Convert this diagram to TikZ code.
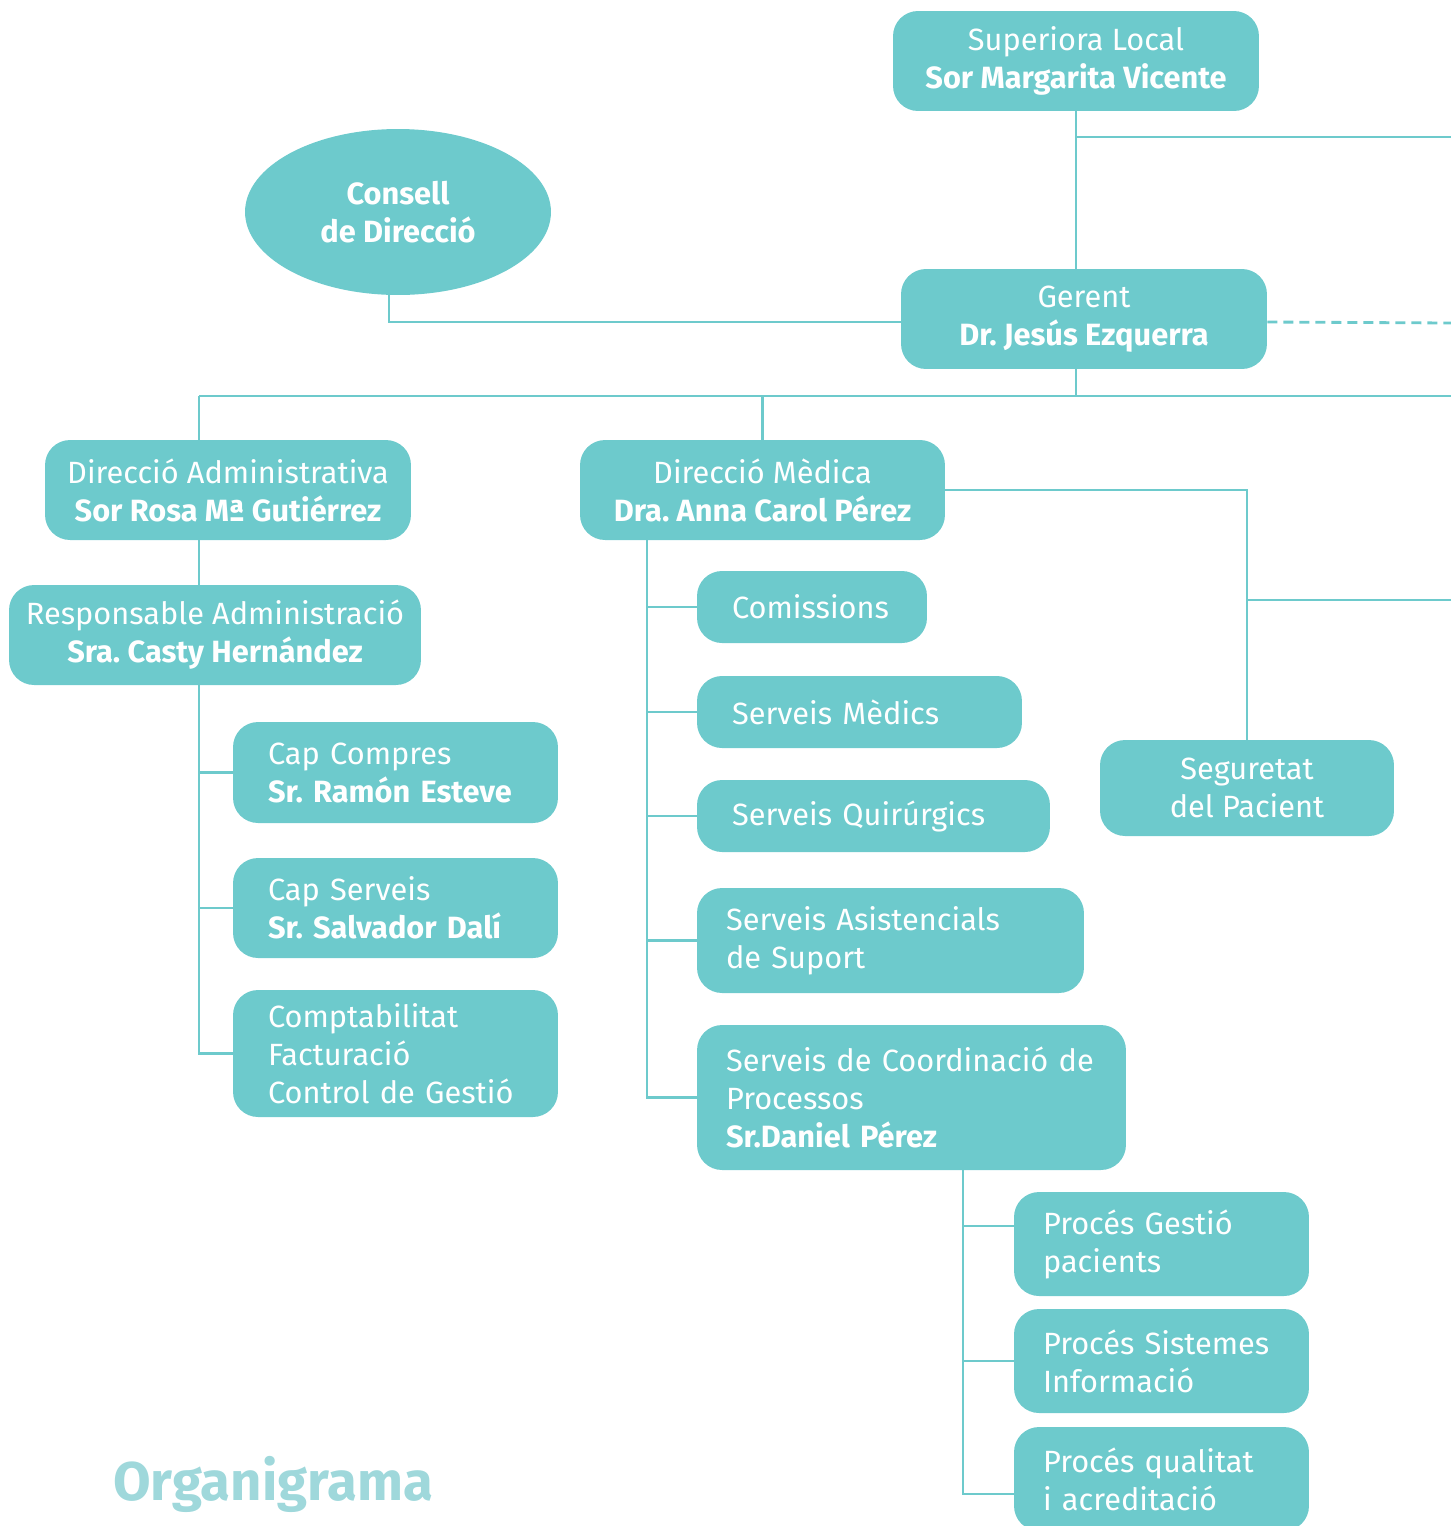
\documentclass[tikz,border=0pt]{standalone}
\usepackage{fontspec}
\setmainfont{Fira Sans}
\usetikzlibrary{shapes.geometric}
\definecolor{teal1}{HTML}{6DCACC}
\definecolor{tealtitle}{HTML}{9FD8DB}
\frenchspacing
\begin{document}
\begin{tikzpicture}[
    x=0.02cm, y=-0.02cm,
    font=\fontsize{17.5}{21.6}\selectfont,
    box/.style={rectangle, rounded corners=0.5cm, fill=teal1, text=white, align=center, inner sep=0pt},
    leaf/.style={box, align=left, inner xsep=0.7cm},
    oval/.style={ellipse, fill=teal1, text=white, align=center, inner sep=0pt, font=\fontsize{17.5}{21.6}\selectfont\bfseries},
    link/.style={draw=teal1, line width=1.6pt}
]
    \useasboundingbox (0,0) rectangle (1451,1526);
    \clip (0,0) rectangle (1451,1526);

    % top
    \node[box, minimum width=7.32cm, minimum height=2cm] (sup) at (1076,61) {Superiora Local\\\textbf{Sor Margarita Vicente}};
    \node[oval, minimum width=6.12cm, minimum height=3.32cm] (cons) at (398,212) {Consell\\de Direcció};
    \node[box, minimum width=7.32cm, minimum height=2cm] (ger) at (1084,319) {Gerent\\\textbf{Dr. Jesús Ezquerra}};

    % administracio
    \node[box, minimum width=7.32cm, minimum height=2cm] (dadm) at (228,490) {Direcció Administrativa\\\textbf{Sor Rosa Mª Gutiérrez}};
    \node[box, minimum width=8.24cm, minimum height=2cm] (resp) at (215,635) {Responsable Administració\\\textbf{Sra. Casty Hernández}};
    \node[leaf, text width=5.1cm, minimum height=2.02cm] (compres) at (395.5,772.5) {Cap Compres\\\textbf{Sr. Ramón Esteve}};
    \node[leaf, text width=5.1cm, minimum height=2cm] (cserv) at (395.5,908) {Cap Serveis\\\textbf{Sr. Salvador Dalí}};
    \node[leaf, text width=5.1cm, minimum height=2.54cm] (compt) at (395.5,1053.5) {Comptabilitat\\Facturació\\Control de Gestió};

    % medica
    \node[box, minimum width=7.3cm, minimum height=2cm] (dmed) at (762.5,490) {Direcció Mèdica\\\textbf{Dra. Anna Carol Pérez}};
    \node[leaf, text width=3.2cm, minimum height=1.44cm] (comis) at (812,607) {Comissions};
    \node[leaf, text width=5.1cm, minimum height=1.44cm] (smed) at (859.5,712) {Serveis Mèdics};
    \node[leaf, text width=5.66cm, minimum height=1.44cm] (squir) at (873.5,816) {Serveis Quirúrgics};
    \node[leaf, inner xsep=0.58cm, text width=6.58cm, minimum height=2.1cm] (sasis) at (890.5,940.5) {Serveis Asistencials\\de Suport};
    \node[leaf, inner xsep=0.58cm, text width=7.42cm, minimum height=2.9cm] (scoord) at (911.5,1097.5) {Serveis de Coordinació de\\Processos\\\textbf{Sr.Daniel Pérez}};
    \node[box, minimum width=5.88cm, minimum height=1.92cm] (segur) at (1247,788) {Seguretat\\del Pacient};

    % processos
    \node[leaf, inner xsep=0.58cm, text width=4.74cm, minimum height=2.08cm] (pgest) at (1161.5,1244) {Procés Gestió\\pacients};
    \node[leaf, inner xsep=0.58cm, text width=4.74cm, minimum height=2.08cm] (psist) at (1161.5,1361) {Procés Sistemes\\Informació};
    \node[leaf, inner xsep=0.58cm, text width=4.74cm, minimum height=2.08cm] (pqual) at (1161.5,1479) {Procés qualitat\\i acreditació};

    \node[anchor=base west, text=tealtitle, inner sep=0pt, font=\fontsize{31}{36}\selectfont\bfseries] (title) at (113,1500) {Organigrama};

    % connectors
    \coordinate (r1) at (1451,137);
    \coordinate (r2) at (1451,323);
    \coordinate (bl) at (199,396);
    \coordinate (br) at (1451,396);
    \coordinate (r3) at (1451,600);
    \coordinate (mt) at (647,0);
    \coordinate (pt) at (963,0);
    \coordinate (pg) at ([yshift=0.36cm]pgest.west);
    \coordinate (pq) at ([yshift=-0.3cm]pqual.west);

    \draw[link] (sup.south) -- (sup.south |- ger.north);
    \draw[link] (r1) -- (r1 -| sup.south);
    \draw[link] ([xshift=-0.18cm]cons.south) |- ([yshift=-0.06cm]ger.west);
    \draw[link, dash pattern=on 0.2cm off 0.12cm] ([yshift=-0.06cm]ger.east) -- (r2);
    \draw[link] (ger.south -| sup.south) -- (br -| sup.south);
    \draw[link] (bl) -- (br);
    \draw[link] (bl) -- (bl |- dadm.north);
    \draw[link] (dmed.north) -- (dmed.north |- br);

    \draw[link] (dadm.south -| bl) -- (resp.north -| bl);
    \draw[link] (resp.south -| bl) |- (compt.west);
    \draw[link] (bl |- compres.west) -- (compres.west);
    \draw[link] (bl |- cserv.west) -- (cserv.west);

    \draw[link] (dmed.south -| mt) |- (scoord.west);
    \draw[link] (mt |- comis.west) -- (comis.west);
    \draw[link] (mt |- smed.west) -- (smed.west);
    \draw[link] (mt |- squir.west) -- (squir.west);
    \draw[link] (mt |- sasis.west) -- (sasis.west);
    \draw[link] (dmed.east) -| (segur.north);
    \draw[link] (r3) -- (r3 -| segur.north);

    \draw[link] (scoord.south -| pt) |- (pq);
    \draw[link] (pt |- pg) -- (pg);
    \draw[link] (pt |- psist.west) -- (psist.west);
\end{tikzpicture}
\end{document}
